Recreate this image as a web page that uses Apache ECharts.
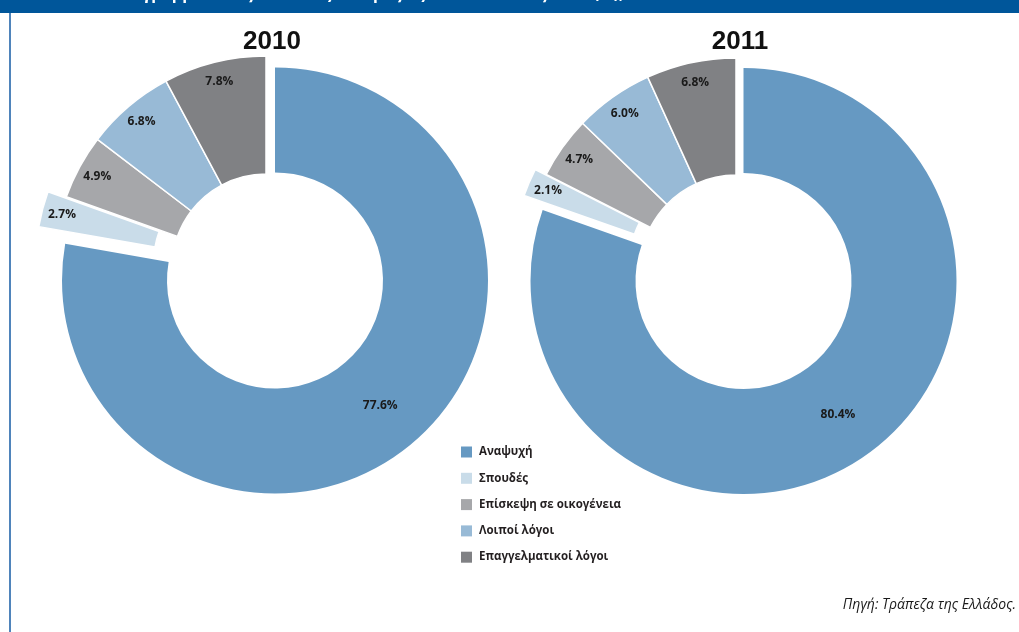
<!DOCTYPE html>
<html>
<head>
<meta charset="utf-8">
<script src="https://cdn.jsdelivr.net/npm/echarts@6/dist/echarts.min.js"></script>
<style>html,body{margin:0;padding:0;background:#fff}#c{width:1019px;height:632px}</style>
</head>
<body>
<div id="c"></div>
<script>
const categories = ['Αναψυχή', 'Σπουδές', 'Επίσκεψη σε οικογένεια', 'Λοιποί λόγοι', 'Επαγγελματικοί λόγοι'];
const values2010 = [77.6, 2.7, 4.9, 6.8, 7.8];
const values2011 = [80.4, 2.1, 4.7, 6.0, 6.8];
const years = ['2010', '2011'];
const colors = ['#6699c2', '#c9dce9', '#a6a7aa', '#98bad6', '#808184'];
const sourceText = 'Πηγή: Τράπεζα της Ελλάδος.';
const headerText = 'Διάγραμμα 4: Ταξιδιωτικές εισπράξεις ανά σκοπό ταξιδιού (%), 2010-2011';

const FONT = '"Open Sans", "Noto Sans", sans-serif';

// layout per year
const layouts = [
  { main: { center: [275, 280.5], radius: [108, 213] }, small: { center: [266, 268], radius: [94, 212] }, offset: 19, titleX: 272 },
  { main: { center: [743.5, 281], radius: [108, 213] }, small: { center: [736, 271], radius: [96, 213] }, offset: 12, titleX: 740 }
];

function makeSeries(values, visible, showLabel, cfg, offset, labelRadius) {
  return {
    type: 'pie',
    center: cfg.center,
    radius: labelRadius || cfg.radius,
    startAngle: 90,
    clockwise: true,
    avoidLabelOverlap: false,
    selectedMode: 'multiple',
    selectedOffset: offset,
    silent: true,
    animation: false,
    emphasis: { disabled: true },
    labelLine: { show: false },
    data: values.map((v, i) => ({
      name: categories[i],
      value: v,
      selected: i === 1 && offset > 0,
      itemStyle: visible.includes(i)
        ? { color: colors[i], borderColor: '#ffffff', borderWidth: i === 0 ? 0 : 1.5 }
        : { color: 'rgba(0,0,0,0)', borderWidth: 0 },
      label: {
        show: showLabel.includes(i),
        position: 'inside',
        formatter: p => p.value.toFixed(1) + '%',
        color: '#1a1a1a',
        fontFamily: FONT,
        fontWeight: 'bold',
        fontSize: 12
      }
    }))
  };
}

const series = [];
[values2010, values2011].forEach((vals, k) => {
  const L = layouts[k];
  series.push(makeSeries(vals, [0], [0], L.main, 0));
  series.push(makeSeries(vals, [1, 2, 3, 4], [], L.small, L.offset));
  series.push(makeSeries(vals, [], [1, 2, 3, 4], L.small, L.offset, [166, L.small.radius[1]]));
});

const graphic = [
  { type: 'rect', shape: { x: 0, y: 0, width: 1019, height: 13 }, style: { fill: '#00569a' }, z: 1 },
  { type: 'text', x: 115, y: -14, z: 2, style: { text: headerText, fill: '#ffffff', font: 'bold 16px ' + FONT } },
  { type: 'line', shape: { x1: 10, y1: 13, x2: 10, y2: 632 }, style: { stroke: '#4f84bb', lineWidth: 2 } },
  { type: 'text', x: 1016, y: 605, style: { text: sourceText, fill: '#1a1a1a', font: 'italic 14px ' + FONT, textAlign: 'right', textVerticalAlign: 'middle' } }
];
years.forEach((y, k) => {
  graphic.push({ type: 'text', x: layouts[k].titleX, y: 42, style: { text: y, fill: '#111111', font: 'bold 26px "Liberation Sans", Arial, sans-serif', textAlign: 'center', textVerticalAlign: 'middle' } });
});

const chart = echarts.init(document.getElementById('c'), null, { renderer: 'canvas' });
chart.setOption({
  backgroundColor: '#ffffff',
  animation: false,
  legend: {
    orient: 'vertical',
    left: 456,
    top: 441,
    itemWidth: 11,
    itemHeight: 11,
    itemGap: 14.3,
    icon: 'rect',
    selectedMode: false,
    textStyle: { color: '#231f20', fontFamily: FONT, fontWeight: 'bold', fontSize: 11.5, padding: [0, 0, 0, 2] },
    data: categories.map((n, i) => ({ name: n, itemStyle: { color: colors[i], opacity: 1, borderWidth: 0 } }))
  },
  graphic: graphic,
  series: series
});
</script>
</body>
</html>
